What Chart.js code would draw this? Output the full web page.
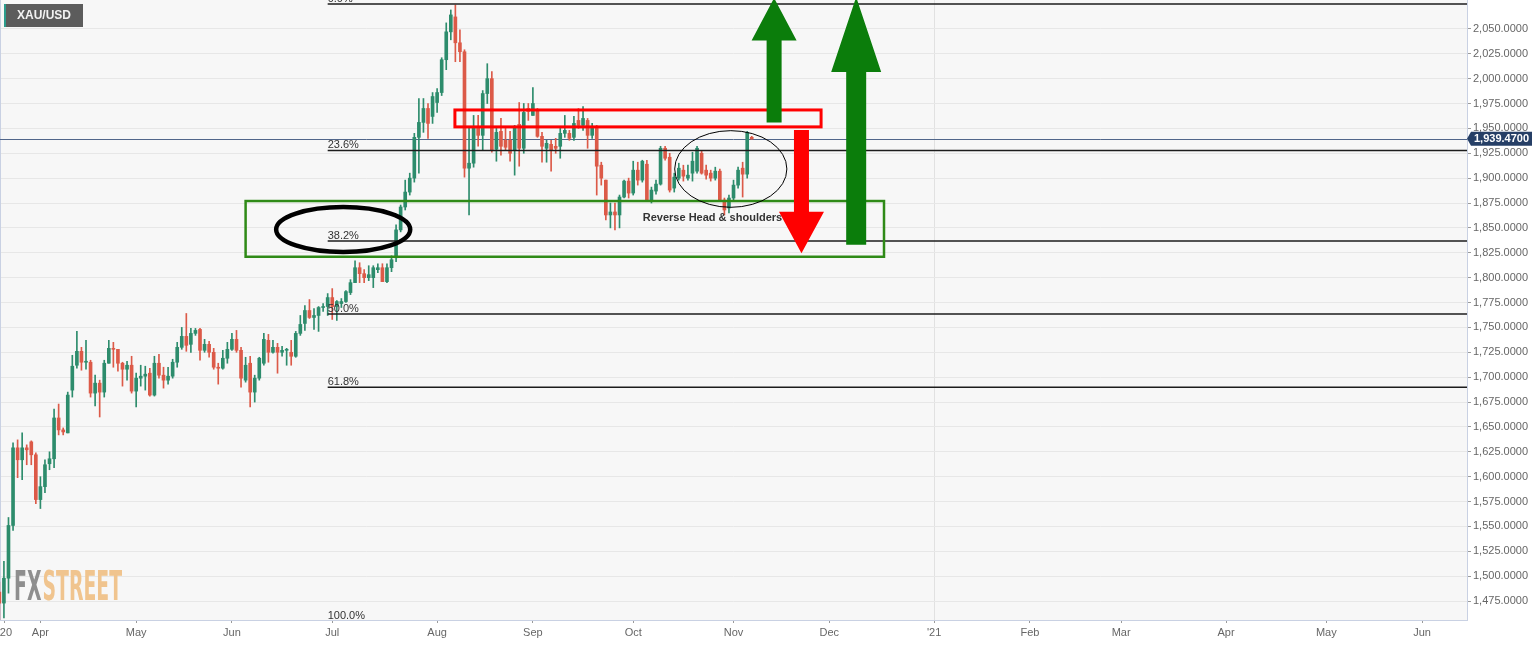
<!DOCTYPE html>
<html>
<head>
<meta charset="utf-8">
<title>XAU/USD daily</title>
<script src="https://cdn.jsdelivr.net/npm/chart.js@4.4.1/dist/chart.umd.min.js"></script>
<style>
  html, body { margin: 0; padding: 0; background: #fff; }
  canvas { display: block; }
</style>
</head>
<body>
<canvas id="chart" width="1536" height="645"></canvas>
<script>
// one slot per trading day, slot 0 = 1 Apr 2020 (Good Friday has no candle)
const FIRST_SLOT = -9;

const opens = [
  1484, 1473, 1498, 1551, 1629, 1617, 1629, 1635, 1622,
  1577, 1590, 1613, 1618, 1659, 1647, 1644, 1687, 1712, 1726,
  1715, 1715, 1684, 1694, 1685, 1714, 1729, 1728, 1714, 1708,
  1712, 1686, 1699, 1701, 1704, 1682, 1714, 1702, 1697, 1701,
  1715, 1730, 1741, 1733, 1744, 1748, 1727, 1733, 1725, 1710,
  1709, 1719, 1728, 1738, 1727, 1697, 1714, 1685, 1699, 1714,
  1737, 1725, 1730, 1725, 1727, 1725, 1721, 1744, 1754, 1767,
  1760, 1762, 1770, 1771, 1780, 1771, 1774, 1776, 1785, 1795,
  1810, 1804, 1800, 1800, 1808, 1810, 1796, 1810, 1820, 1848,
  1871, 1886, 1900, 1941, 1956, 1970, 1962, 1976, 1986, 2019,
  2047, 2062, 2036, 2027, 1910, 1915, 1952, 1943, 1985, 2000,
  1929, 1947, 1938, 1938, 1928, 1954, 1930, 1970, 1963, 1969,
  1942, 1930, 1934, 1932, 1932, 1945, 1945, 1941, 1958, 1953,
  1958, 1943, 1950, 1913, 1898, 1863, 1866, 1863, 1881, 1897,
  1885, 1908, 1898, 1914, 1878, 1887, 1894, 1930, 1921, 1890,
  1900, 1908, 1900, 1905, 1907, 1925, 1908, 1905, 1900, 1907,
  1878, 1870, 1880, 1893, 1910, 1904, 1941
];
const highs = [
  1494, 1515, 1559, 1634, 1637, 1644, 1632, 1636, 1624,
  1600, 1617, 1625, 1668, 1673, 1649, 1685, 1722, 1746, 1730,
  1737, 1717, 1702, 1697, 1717, 1737, 1735, 1728, 1715, 1716,
  1721, 1704, 1712, 1711, 1709, 1721, 1723, 1710, 1710, 1718,
  1735, 1750, 1764, 1749, 1749, 1749, 1738, 1736, 1729, 1714,
  1727, 1735, 1744, 1747, 1730, 1720, 1721, 1702, 1720, 1744,
  1743, 1737, 1734, 1731, 1729, 1737, 1746, 1762, 1772, 1778,
  1769, 1771, 1774, 1784, 1789, 1777, 1779, 1787, 1798, 1817,
  1815, 1808, 1812, 1812, 1814, 1814, 1814, 1822, 1853, 1873,
  1898, 1905, 1945, 1980, 1980, 1975, 1986, 1990, 2021, 2056,
  2069, 2074, 2049, 2029, 1950, 1963, 1963, 1988, 2015, 2007,
  1950, 1960, 1950, 1947, 1953, 1976, 1975, 1975, 1991, 1970,
  1946, 1938, 1938, 1940, 1950, 1963, 1948, 1962, 1970, 1972,
  1960, 1955, 1953, 1916, 1898, 1875, 1875, 1883, 1898, 1900,
  1917, 1916, 1918, 1918, 1891, 1898, 1932, 1932, 1925, 1905,
  1915, 1913, 1913, 1926, 1932, 1927, 1913, 1908, 1911, 1909,
  1880, 1883, 1898, 1911, 1916, 1947, 1942
];
const lows = [
  1455, 1458, 1483, 1546, 1599, 1597, 1612, 1612, 1573,
  1568, 1584, 1607, 1609, 1642, 1642, 1644, 1680, 1709, 1707,
  1708, 1680, 1671, 1660, 1680, 1714, 1710, 1706, 1691, 1697,
  1684, 1670, 1691, 1687, 1681, 1681, 1699, 1689, 1693, 1699,
  1710, 1728, 1726, 1725, 1742, 1717, 1725, 1720, 1708, 1693,
  1708, 1714, 1727, 1725, 1690, 1695, 1670, 1675, 1697, 1712,
  1715, 1724, 1704, 1721, 1712, 1712, 1720, 1742, 1747, 1759,
  1748, 1746, 1766, 1762, 1758, 1757, 1770, 1775, 1783, 1795,
  1795, 1795, 1797, 1790, 1805, 1796, 1795, 1806, 1816, 1846,
  1868, 1883, 1896, 1905, 1946, 1940, 1955, 1966, 1983, 2009,
  2039, 2017, 2017, 1901, 1863, 1911, 1932, 1928, 1975, 1926,
  1917, 1923, 1928, 1917, 1903, 1912, 1925, 1958, 1963, 1941,
  1916, 1916, 1907, 1925, 1920, 1941, 1938, 1938, 1950, 1948,
  1930, 1940, 1883, 1893, 1858, 1850, 1848, 1850, 1880, 1880,
  1883, 1893, 1896, 1877, 1875, 1884, 1893, 1918, 1886, 1886,
  1898, 1897, 1898, 1897, 1905, 1904, 1899, 1897, 1898, 1877,
  1863, 1865, 1878, 1890, 1881, 1900, 1939
];
const closes = [
  1473, 1498, 1551, 1629, 1617, 1629, 1627, 1622, 1577,
  1590, 1612, 1618, 1659, 1647, 1645, 1682, 1711, 1726, 1715,
  1716, 1684, 1694, 1685, 1714, 1729, 1728, 1714, 1708, 1712,
  1686, 1699, 1701, 1703, 1682, 1714, 1702, 1697, 1701, 1715,
  1730, 1741, 1732, 1744, 1747, 1727, 1733, 1725, 1710, 1709,
  1719, 1728, 1738, 1727, 1699, 1712, 1685, 1699, 1719, 1738,
  1725, 1730, 1725, 1727, 1728, 1721, 1744, 1753, 1767, 1760,
  1762, 1770, 1771, 1780, 1771, 1776, 1776, 1786, 1795, 1810,
  1804, 1800, 1803, 1810, 1810, 1796, 1810, 1818, 1848, 1871,
  1886, 1900, 1941, 1956, 1970, 1955, 1982, 1986, 2019, 2047,
  2064, 2036, 2027, 1910, 1915, 1952, 1943, 1985, 2000, 1928,
  1946, 1932, 1931, 1925, 1952, 1930, 1966, 1967, 1975, 1942,
  1932, 1935, 1928, 1930, 1945, 1948, 1940, 1955, 1953, 1960,
  1943, 1950, 1912, 1900, 1863, 1866, 1863, 1881, 1897, 1885,
  1908, 1898, 1917, 1878, 1888, 1894, 1930, 1920, 1888, 1901,
  1910, 1902, 1903, 1917, 1930, 1905, 1903, 1900, 1907, 1878,
  1868, 1880, 1893, 1908, 1904, 1946, 1939.47
];

// axis ticks
const yTicks = [1475, 1500, 1525, 1550, 1575, 1600, 1625, 1650, 1675, 1700, 1725, 1750,
                1775, 1800, 1825, 1850, 1875, 1900, 1925, 1950, 1975, 2000, 2025, 2050];
const xTickSlots = [-7.8, 0, 21, 42, 64, 87, 108, 130, 152, 173, 196, 217, 237, 260, 282, 303];
const xTickLabels = ["'20", 'Apr', 'May', 'Jun', 'Jul', 'Aug', 'Sep', 'Oct', 'Nov', 'Dec', "'21", 'Feb', 'Mar', 'Apr', 'May', 'Jun'];
const YEAR_SLOT = 196;

// fibonacci retracement
const fibLabels = ['0.0%', '23.6%', '38.2%', '50.0%', '61.8%', '100.0%'];
const fibPrices = [2075, 1927.8, 1836.8, 1763.5, 1690, 1452];
const FIB_START = 63;
const LAST_PRICE = 1939.47;

// drawings (slot / price coordinates)
const redBox = { x0: 90.9, x1: 171.2, lo: 1951.5, hi: 1968.5 };
const greenBox = { x0: 45, x1: 185, lo: 1821, hi: 1877 };
const bigEllipse = { x: 66.4, y: 1848.4, rx: 14.7, ry: 22.6 };
const hsEllipse = { x: 151.4, y: 1909.2, rx: 12.3, ry: 38.5 };
const arrows = [
  { x: 160.9, tail: 1955.8, base: 2038.2, tip: 2081, shaft: 15, head: 45, color: '#0b7d0b' },
  { x: 178.9, tail: 1833, base: 2006.7, tip: 2082, shaft: 20, head: 50, color: '#0b7d0b' },
  { x: 166.9, tail: 1948.4, base: 1866.3, tip: 1824.5, shaft: 15, head: 45, color: '#ff0000' }
];
const hsText = { x: 132.1, y: 1860, text: 'Reverse Head & shoulders' };

const UP = '#2d8c6c', DOWN = '#dc5a48';
const slots = opens.map((_, i) => FIRST_SLOT + i);
const candleColors = closes.map((c, i) => c >= opens[i] ? UP : DOWN);

Chart.defaults.font.family = '"Liberation Sans", Arial, sans-serif';

function arrowPath(ctx, x, yTail, yBase, yTip, shaft, head) {
  ctx.beginPath();
  ctx.moveTo(x - shaft / 2, yTail);
  ctx.lineTo(x - shaft / 2, yBase);
  ctx.lineTo(x - head / 2, yBase);
  ctx.lineTo(x, yTip);
  ctx.lineTo(x + head / 2, yBase);
  ctx.lineTo(x + shaft / 2, yBase);
  ctx.lineTo(x + shaft / 2, yTail);
  ctx.closePath();
}

const overlay = {
  id: 'overlay',
  beforeDraw(chart) {
    const { ctx, chartArea: a } = chart;
    ctx.save();
    ctx.fillStyle = '#f7f7f7';
    ctx.fillRect(a.left, a.top, a.right - a.left, a.bottom - a.top);
    ctx.restore();
  },
  beforeDatasetsDraw(chart) {
    const { ctx, chartArea: a, scales: { y } } = chart;
    ctx.save();
    // left border
    ctx.strokeStyle = '#c9d1e3';
    ctx.lineWidth = 1;
    ctx.beginPath(); ctx.moveTo(a.left + 0.5, a.top); ctx.lineTo(a.left + 0.5, a.bottom); ctx.stroke();

    // FXStreet logo
    ctx.font = 'bold 40px "Liberation Sans Narrow", "DejaVu Sans Condensed", sans-serif';
    ctx.textBaseline = 'alphabetic';
    const wFx = ctx.measureText('FX').width;
    const wSt = ctx.measureText('STREET').width;
    ctx.translate(14, 600);
    ctx.scale(108 / (wFx + wSt + 2), 1);
    ctx.fillStyle = '#8e8e8e';
    ctx.fillText('FX', 0, 0);
    ctx.fillStyle = '#f0c48e';
    ctx.fillText('STREET', wFx + 2, 0);
    ctx.restore();

    // last price line
    ctx.save();
    const py = Math.round(y.getPixelForValue(LAST_PRICE)) + 0.5;
    ctx.strokeStyle = '#51668a';
    ctx.lineWidth = 1;
    ctx.beginPath(); ctx.moveTo(a.left, py); ctx.lineTo(a.right, py); ctx.stroke();
    ctx.restore();
  },
  afterDatasetsDraw(chart) {
    const { ctx, chartArea: a, scales: { x, y } } = chart;
    ctx.save();
    ctx.beginPath();
    ctx.rect(a.left, a.top, a.right - a.left, a.bottom - a.top);
    ctx.clip();

    // fib levels
    const fx = x.getPixelForValue(FIB_START);
    ctx.font = '11px "Liberation Sans", Arial, sans-serif';
    ctx.fillStyle = '#333';
    ctx.strokeStyle = '#1c1c1c';
    ctx.lineWidth = 1.5;
    fibPrices.forEach((p, i) => {
      const fy = y.getPixelForValue(p);
      ctx.beginPath(); ctx.moveTo(fx, fy); ctx.lineTo(a.right, fy); ctx.stroke();
      ctx.fillText(fibLabels[i], fx, Math.min(fy - 2, a.bottom - 1));
    });

    // boxes
    const box = (b, color, w) => {
      const x0 = x.getPixelForValue(b.x0), x1 = x.getPixelForValue(b.x1);
      const y0 = y.getPixelForValue(b.hi), y1 = y.getPixelForValue(b.lo);
      ctx.strokeStyle = color;
      ctx.lineWidth = w;
      ctx.strokeRect(x0, y0, x1 - x0, y1 - y0);
    };
    box(greenBox, '#2f8a17', 2.5);
    box(redBox, '#ff0000', 3);

    // ellipses
    const ell = (e, w) => {
      const cx = x.getPixelForValue(e.x), cy = y.getPixelForValue(e.y);
      const rx = Math.abs(x.getPixelForValue(e.x + e.rx) - cx);
      const ry = Math.abs(y.getPixelForValue(e.y + e.ry) - cy);
      ctx.strokeStyle = '#000';
      ctx.lineWidth = w;
      ctx.beginPath(); ctx.ellipse(cx, cy, rx, ry, 0, 0, Math.PI * 2); ctx.stroke();
    };
    ell(bigEllipse, 4.5);
    ell(hsEllipse, 1);

    // arrows
    arrows.forEach(r => {
      arrowPath(ctx, x.getPixelForValue(r.x), y.getPixelForValue(r.tail), y.getPixelForValue(r.base),
        y.getPixelForValue(r.tip), r.shaft, r.head);
      ctx.fillStyle = r.color;
      ctx.fill();
    });

    // pattern label
    ctx.font = 'bold 11px "Liberation Sans", Arial, sans-serif';
    ctx.fillStyle = '#333';
    ctx.textBaseline = 'middle';
    ctx.fillText(hsText.text, x.getPixelForValue(hsText.x), y.getPixelForValue(hsText.y));
    ctx.restore();
  },
  afterDraw(chart) {
    const { ctx, chartArea: a, scales: { y } } = chart;
    ctx.save();
    // symbol badge
    ctx.fillStyle = '#5c5c5c';
    ctx.fillRect(4, 4, 79, 23);
    ctx.fillStyle = '#2b9c8c';
    ctx.fillRect(4, 4, 2, 23);
    ctx.font = 'bold 12px "Liberation Sans", Arial, sans-serif';
    ctx.fillStyle = '#f2f2f2';
    ctx.textBaseline = 'middle';
    ctx.fillText('XAU/USD', 17, 16);

    // last price tag
    const py = y.getPixelForValue(LAST_PRICE);
    ctx.fillStyle = '#263f66';
    ctx.beginPath();
    ctx.moveTo(a.right, py);
    ctx.lineTo(a.right + 4, py - 7);
    ctx.lineTo(1532, py - 7);
    ctx.lineTo(1532, py + 7);
    ctx.lineTo(a.right + 4, py + 7);
    ctx.closePath();
    ctx.fill();
    ctx.font = 'bold 11px "Liberation Sans", Arial, sans-serif';
    ctx.fillStyle = '#fff';
    ctx.fillText(LAST_PRICE.toLocaleString('en-US', { minimumFractionDigits: 4 }), a.right + 7, py + 0.5);
    ctx.restore();
  }
};

new Chart(document.getElementById('chart').getContext('2d'), {
  type: 'bar',
  data: {
    datasets: [
      {
        label: 'wick',
        data: slots.map((s, i) => ({ x: s, y: [lows[i], highs[i]] })),
        backgroundColor: candleColors,
        barThickness: 1,
        grouped: false,
        order: 2
      },
      {
        label: 'body',
        data: slots.map((s, i) => ({ x: s, y: [opens[i], closes[i]] })),
        backgroundColor: candleColors,
        barThickness: 3,
        minBarLength: 1,
        grouped: false,
        order: 1
      }
    ]
  },
  options: {
    responsive: false,
    animation: false,
    devicePixelRatio: 1,
    layout: { padding: 0 },
    plugins: { legend: { display: false }, tooltip: { enabled: false } },
    scales: {
      x: {
        type: 'linear',
        min: -8.86,
        max: 312.85,
        offset: false,
        border: { color: '#c9d1e3' },
        grid: {
          offset: false,
          color: c => (c.tick && c.tick.value === YEAR_SLOT) ? '#e1e1e1' : 'rgba(0,0,0,0)',
          tickColor: '#9a9a9a',
          tickLength: 3
        },
        ticks: {
          color: '#666',
          font: { size: 11 },
          padding: 3,
          maxRotation: 0,
          autoSkip: false,
          callback: (v, i) => xTickLabels[i]
        },
        afterBuildTicks: s => { s.ticks = xTickSlots.map(v => ({ value: v })); },
        afterFit: s => { s.height = 25; s.paddingLeft = 0; s.paddingRight = 0; }
      },
      y: {
        position: 'right',
        min: 1456,
        max: 2079,
        border: { color: '#c9d1e3' },
        grid: { color: '#e7e7e7', tickColor: '#9a9a9a', tickLength: 4 },
        ticks: {
          color: '#666',
          font: { size: 11 },
          padding: 2,
          callback: v => v.toLocaleString('en-US', { minimumFractionDigits: 4, maximumFractionDigits: 4 })
        },
        afterBuildTicks: s => { s.ticks = yTicks.map(v => ({ value: v })); },
        afterFit: s => { s.width = 69; s.paddingTop = 0; s.paddingBottom = 0; }
      }
    }
  },
  plugins: [overlay]
});
</script>
</body>
</html>
